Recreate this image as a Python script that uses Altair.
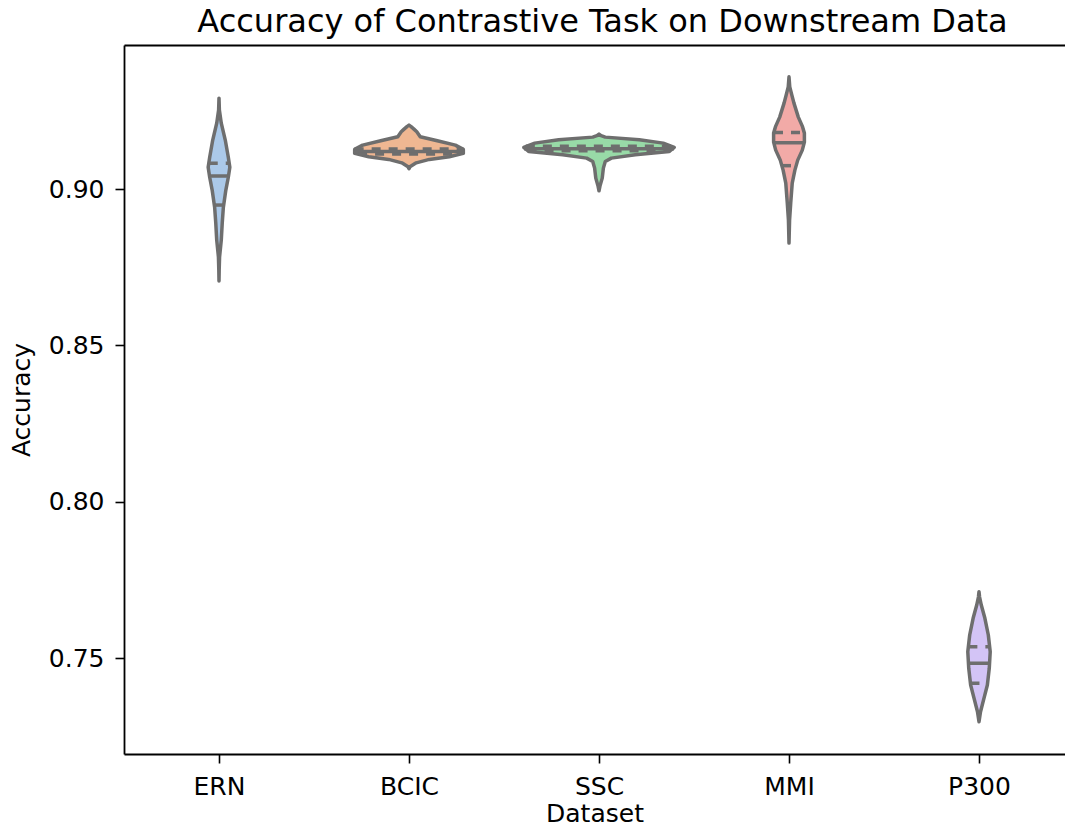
import altair as alt
import pandas as pd

datasets = ["ERN", "BCIC", "SSC", "MMI", "P300"]
colors = ["#abc9e9", "#efb792", "#98daa7", "#f2aaa7", "#d3c4f6"]

# violin outlines: accuracy level and half-width of the density (category units)
ern_acc = [0.9291, 0.9253, 0.9211, 0.9157, 0.9102, 0.9070, 0.9038, 0.8997, 0.8942, 0.8891, 0.8837, 0.8783, 0.8741, 0.8706]
ern_w = [0.0, 0.002, 0.012, 0.033, 0.049, 0.057, 0.049, 0.036, 0.023, 0.017, 0.012, 0.003, 0.001, 0.0]

bcic_acc = [0.92047, 0.91999, 0.91919, 0.91833, 0.91673, 0.91545, 0.91407, 0.91270, 0.91142, 0.91033, 0.90950, 0.90841, 0.90713, 0.90656]
bcic_w = [0.0, 0.011, 0.026, 0.041, 0.059, 0.149, 0.244, 0.286, 0.286, 0.212, 0.107, 0.038, 0.005, 0.0]

ssc_acc = [0.91759, 0.91711, 0.91663, 0.91577, 0.91471, 0.91334, 0.91206, 0.91097, 0.90991, 0.90886, 0.90672, 0.90352, 0.90096, 0.89946]
ssc_w = [0.0, 0.011, 0.033, 0.212, 0.338, 0.396, 0.370, 0.191, 0.065, 0.033, 0.023, 0.017, 0.005, 0.0]

mmi_acc = [0.93592, 0.93272, 0.93006, 0.92751, 0.92303, 0.92015, 0.91791, 0.91503, 0.91247, 0.90927, 0.90608, 0.90192, 0.89552, 0.89009, 0.88273]
mmi_w = [0.0, 0.004, 0.015, 0.026, 0.049, 0.070, 0.081, 0.081, 0.070, 0.046, 0.031, 0.017, 0.009, 0.003, 0.0]

p300_acc = [0.77120, 0.76951, 0.76695, 0.76270, 0.75736, 0.75201, 0.74671, 0.74136, 0.73711, 0.73283, 0.72963]
p300_w = [0.0, 0.003, 0.012, 0.031, 0.049, 0.059, 0.054, 0.044, 0.026, 0.008, 0.0]

# quartile lines (q75, median, q25) and their half-widths
q_acc = {
    "ERN": [0.9083, 0.9042, 0.8949],
    "BCIC": [0.9128, 0.9120, 0.9112],
    "SSC": [0.9137, 0.9129, 0.9123],
    "MMI": [0.9181, 0.9148, 0.9075],
    "P300": [0.7536, 0.7483, 0.7419],
}
q_w = {
    "ERN": [0.054, 0.050, 0.024],
    "BCIC": [0.286, 0.286, 0.268],
    "SSC": [0.385, 0.395, 0.376],
    "MMI": [0.079, 0.080, 0.037],
    "P300": [0.056, 0.057, 0.045],
}
q_kind = ["quartile", "median", "quartile"]

profiles = {
    "ERN": (ern_acc, ern_w),
    "BCIC": (bcic_acc, bcic_w),
    "SSC": (ssc_acc, ssc_w),
    "MMI": (mmi_acc, mmi_w),
    "P300": (p300_acc, p300_w),
}

rows = []
for i, d in enumerate(datasets):
    acc, w = profiles[d]
    for a, ww in zip(acc, w):
        rows.append({"dataset": d, "idx": i, "acc": a, "w": ww})
vdf = pd.DataFrame(rows)

qrows = []
for i, d in enumerate(datasets):
    for a, ww, k in zip(q_acc[d], q_w[d], q_kind):
        qrows.append({"dataset": d, "idx": i, "acc": a, "w": ww, "kind": k})
qdf = pd.DataFrame(qrows)

FONT = "DejaVu Sans"
OUTLINE = "#6e6e6e"

label_expr = "[" + ",".join(f"'{d}'" for d in datasets) + "][datum.value]"

# the plot continues a few pixels beyond the right edge of the window
xscale = alt.Scale(domain=[-0.5, 4.4526], nice=False, zero=False)
yscale = alt.Scale(domain=[0.7193, 0.9461], nice=False, zero=False)

xaxis = alt.Axis(
    title="Dataset", values=[0, 1, 2, 3, 4], labelExpr=label_expr, grid=False,
    domain=True, domainColor="black", domainWidth=1.8,
    tickSize=9, tickWidth=1.6, tickColor="black",
    labelFontSize=25, labelFont=FONT, labelColor="black", labelPadding=11,
    titleFontSize=25, titleFont=FONT, titleFontWeight="normal", titleColor="black",
    titlePadding=2, labelFlush=False, labelOverlap=False,
)
top_axis = alt.Axis(
    orient="top", title=None, labels=False, ticks=False, grid=False,
    domain=True, domainColor="black", domainWidth=1.8,
)
yaxis = alt.Axis(
    title="Accuracy", values=[0.75, 0.80, 0.85, 0.90], format=".2f", grid=False,
    domain=True, domainColor="black", domainWidth=1.8,
    tickSize=9, tickWidth=1.6, tickColor="black",
    labelFontSize=25, labelFont=FONT, labelColor="black", labelPadding=11,
    titleFontSize=25, titleFont=FONT, titleFontWeight="normal", titleColor="black",
    titlePadding=14, labelFlush=False, labelOverlap=False,
)

violins = alt.Chart(vdf).transform_calculate(
    x0="datum.idx - datum.w", x1="datum.idx + datum.w"
).mark_area(
    orient="horizontal", stroke=OUTLINE, strokeWidth=3.5, strokeJoin="round",
    fillOpacity=1, opacity=1,
).encode(
    y=alt.Y("acc:Q", scale=yscale, axis=yaxis),
    x=alt.X("x0:Q", scale=xscale, axis=xaxis),
    x2="x1:Q",
    color=alt.Color("dataset:N", scale=alt.Scale(domain=datasets, range=colors), legend=None),
)

quarts = alt.Chart(qdf).transform_calculate(
    x0="datum.idx - datum.w", x1="datum.idx + datum.w"
).mark_rule(color=OUTLINE, strokeWidth=3.5).encode(
    y=alt.Y("acc:Q", scale=yscale),
    x=alt.X("x0:Q", scale=xscale, axis=top_axis),
    x2="x1:Q",
    strokeDash=alt.StrokeDash(
        "kind:N",
        scale=alt.Scale(domain=["quartile", "median"], range=[[9, 8], [1, 0]]),
        legend=None,
    ),
)

chart = alt.layer(violins, quarts).resolve_axis(x="independent").properties(
    width=941, height=709,
    title=alt.Title(
        "Accuracy of Contrastive Task on Downstream Data", fontSize=32, font=FONT,
        fontWeight="normal", color="black", anchor="middle", baseline="top",
        offset=6, dx=8,
    ),
    padding={"left": 116, "top": 37, "right": 0, "bottom": 73},
    autosize=alt.AutoSizeParams(type="none"),
).configure_view(stroke=None)

chart.save("out.html", embed_options={"renderer": "svg", "actions": False})
